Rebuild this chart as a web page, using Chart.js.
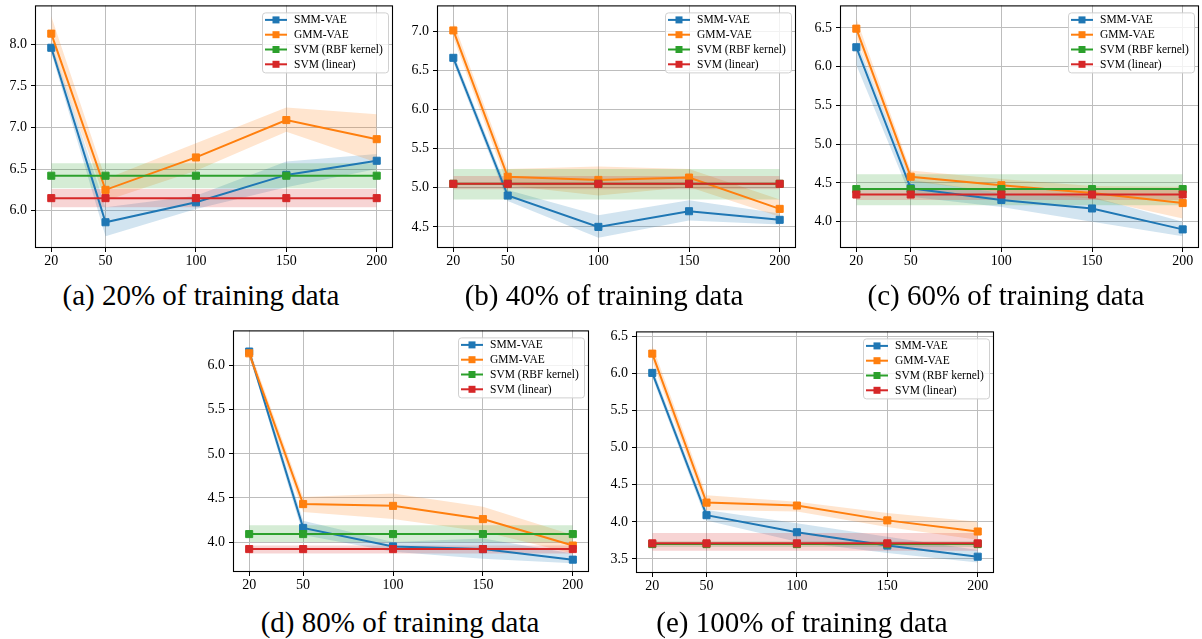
<!DOCTYPE html>
<html>
<head>
<meta charset="utf-8">
<script src="https://cdn.jsdelivr.net/npm/chart.js@4.4.1/dist/chart.umd.min.js"></script>
<style>
    html, body { margin: 0; padding: 0; background: #fff; overflow: hidden; }
    body { width: 1202px; height: 639px; position: relative; }
    .panel { position: absolute; }
    .caption {
        position: absolute;
        font-family: "Liberation Serif", "Times New Roman", serif;
        font-size: 29px;
        line-height: 29px;
        color: #000;
        white-space: nowrap;
        transform: translateX(-50%);
    }
</style>
</head>
<body>
<script>
// data
const xValues = [20, 50, 100, 150, 200];
const seriesNames = ['SMM-VAE', 'GMM-VAE', 'SVM (RBF kernel)', 'SVM (linear)'];
const panelTitles = ['(a) 20% of training data', '(b) 40% of training data', '(c) 60% of training data',
                     '(d) 80% of training data', '(e) 100% of training data'];

// one row per panel, one value per x
const smmMean = [
    [7.96, 5.86, 6.10, 6.43, 6.60],
    [6.66, 4.90, 4.50, 4.70, 4.59],
    [6.25, 4.43, 4.28, 4.17, 3.90],
    [6.16, 4.16, 3.95, 3.92, 3.80],
    [6.01, 4.09, 3.86, 3.68, 3.53]
];
const smmLow = [
    [7.90, 5.69, 6.02, 6.28, 6.50],
    [6.60, 4.83, 4.36, 4.58, 4.53],
    [6.02, 4.32, 4.19, 4.00, 3.81],
    [6.12, 4.08, 3.89, 3.81, 3.76],
    [5.95, 4.02, 3.73, 3.58, 3.45]
];
const smmHigh = [
    [8.02, 6.04, 6.18, 6.59, 6.68],
    [6.72, 4.97, 4.65, 4.84, 4.67],
    [6.35, 4.54, 4.37, 4.32, 4.00],
    [6.20, 4.24, 4.00, 4.04, 3.87],
    [6.08, 4.16, 3.98, 3.80, 3.62]
];
const gmmMean = [
    [8.13, 6.25, 6.64, 7.09, 6.86],
    [7.01, 5.14, 5.10, 5.13, 4.73],
    [6.49, 4.58, 4.47, 4.37, 4.24],
    [6.14, 4.43, 4.41, 4.26, 3.96],
    [6.27, 4.26, 4.22, 4.02, 3.87]
];
const gmmLow = [
    [7.96, 6.12, 6.48, 6.95, 6.58],
    [6.92, 5.03, 4.90, 5.01, 4.63],
    [6.38, 4.52, 4.38, 4.30, 4.04],
    [6.08, 4.34, 4.26, 4.12, 3.87],
    [6.17, 4.16, 4.14, 3.93, 3.76]
];
const gmmHigh = [
    [8.34, 6.38, 6.81, 7.24, 7.16],
    [7.12, 5.24, 5.27, 5.24, 4.85],
    [6.62, 4.66, 4.55, 4.46, 4.45],
    [6.20, 4.51, 4.55, 4.40, 4.08],
    [6.38, 4.36, 4.27, 4.12, 4.00]
];
// the SVM baselines do not depend on x: one value per panel
const rbfMean = [6.42, 5.05, 4.42, 4.09, 3.70];
const rbfLow = [6.27, 4.85, 4.21, 4.00, 3.66];
const rbfHigh = [6.57, 5.24, 4.61, 4.19, 3.74];
const linMean = [6.15, 5.05, 4.35, 3.92, 3.71];
const linLow = [6.04, 4.98, 4.28, 3.87, 3.61];
const linHigh = [6.26, 5.15, 4.43, 3.96, 3.85];

const yTicks = [
    [6.0, 6.5, 7.0, 7.5, 8.0],
    [4.5, 5.0, 5.5, 6.0, 6.5, 7.0],
    [4.0, 4.5, 5.0, 5.5, 6.0, 6.5],
    [4.0, 4.5, 5.0, 5.5, 6.0],
    [3.5, 4.0, 4.5, 5.0, 5.5, 6.0, 6.5]
];
const yMin = [5.55, 4.23, 3.66, 3.66, 3.31];
const yMax = [8.47, 7.33, 6.79, 6.40, 6.57];

// layout: axes box [left, top, right, bottom] and caption position
const boxes = [
    [35, 5, 393, 248],
    [437, 5, 796, 248],
    [840, 5, 1199, 248],
    [233, 330, 589, 572],
    [636, 331, 994, 573]
];
const captionPos = [[201, 281], [604, 281], [1006, 281], [400, 608], [802, 608]];

const colors = ['#1f77b4', '#ff7f0e', '#2ca02c', '#d62728'];
const bandColors = ['rgba(31,119,180,0.2)', 'rgba(255,127,14,0.2)', 'rgba(44,160,44,0.2)', 'rgba(214,39,40,0.2)'];

const tickFont = { family: '"Liberation Serif", "Times New Roman", serif', size: 14 };
const PAD_L = 40, PAD_T = 12, PAD_R = 10, PAD_B = 26;

// black frame around the axes, like matplotlib spines
const framePlugin = {
    id: 'frame',
    afterDatasetsDraw(chart) {
        const a = chart.chartArea;
        const ctx = chart.ctx;
        ctx.save();
        ctx.strokeStyle = '#000';
        ctx.lineWidth = 1.1;
        ctx.strokeRect(a.left + 0.5, a.top + 0.5, a.right - a.left - 1, a.bottom - a.top - 1);
        ctx.restore();
    }
};

// legend box in the upper right corner of the axes
const boxLegendPlugin = {
    id: 'boxLegend',
    afterDraw(chart) {
        const a = chart.chartArea;
        const ctx = chart.ctx;
        const w = 126, h = 60;
        const left = a.right - 5 - w;
        const top = a.top + 7;
        ctx.save();
        ctx.fillStyle = 'rgba(255,255,255,0.8)';
        ctx.strokeStyle = '#d0d0d0';
        ctx.lineWidth = 1;
        ctx.beginPath();
        ctx.roundRect(left + 0.5, top + 0.5, w, h, 3);
        ctx.fill();
        ctx.stroke();
        ctx.font = '11.5px "Liberation Serif", "Times New Roman", serif';
        ctx.textBaseline = 'middle';
        seriesNames.forEach((name, k) => {
            const y = top + 7.5 + k * 14.8;
            ctx.strokeStyle = colors[k];
            ctx.lineWidth = 2;
            ctx.beginPath();
            ctx.moveTo(left + 3, y);
            ctx.lineTo(left + 25, y);
            ctx.stroke();
            ctx.fillStyle = colors[k];
            ctx.fillRect(left + 10.5, y - 3.5, 7, 7);
            ctx.fillStyle = '#000';
            ctx.fillText(name, left + 32, y + 0.5);
        });
        ctx.restore();
    }
};

function points(values) {
    return xValues.map((x, j) => ({ x: x, y: values[j] }));
}

function flat(value) {
    return xValues.map(() => value);
}

function buildDatasets(i) {
    const means = [smmMean[i], gmmMean[i], flat(rbfMean[i]), flat(linMean[i])];
    const lows = [smmLow[i], gmmLow[i], flat(rbfLow[i]), flat(linLow[i])];
    const highs = [smmHigh[i], gmmHigh[i], flat(rbfHigh[i]), flat(linHigh[i])];
    const sets = [];
    seriesNames.forEach((name, k) => {
        // shaded band: upper edge filled down to the lower edge
        sets.push({
            label: name + ' upper',
            data: points(highs[k]),
            borderWidth: 0,
            pointRadius: 0,
            backgroundColor: bandColors[k],
            fill: '+1',
            order: 8 - k
        });
        sets.push({
            label: name + ' lower',
            data: points(lows[k]),
            borderWidth: 0,
            pointRadius: 0,
            fill: false,
            order: 8 - k
        });
    });
    seriesNames.forEach((name, k) => {
        sets.push({
            label: name,
            data: points(means[k]),
            borderColor: colors[k],
            backgroundColor: colors[k],
            borderWidth: 2,
            pointStyle: 'rect',
            pointRadius: 5,
            pointBorderWidth: 1,
            pointBackgroundColor: colors[k],
            pointBorderColor: colors[k],
            fill: false,
            tension: 0,
            order: 4 - k
        });
    });
    return sets;
}

boxes.forEach((box, i) => {
    const [L, T, R, B] = box;
    const w = R - L + PAD_L + PAD_R;
    const h = B - T + PAD_T + PAD_B;
    const wrap = document.createElement('div');
    wrap.className = 'panel';
    wrap.style.left = (L - PAD_L) + 'px';
    wrap.style.top = (T - PAD_T) + 'px';
    const canvas = document.createElement('canvas');
    canvas.width = w;
    canvas.height = h;
    canvas.style.width = w + 'px';
    canvas.style.height = h + 'px';
    wrap.appendChild(canvas);
    document.body.appendChild(wrap);

    const cap = document.createElement('div');
    cap.className = 'caption';
    cap.textContent = panelTitles[i];
    cap.style.left = captionPos[i][0] + 'px';
    cap.style.top = captionPos[i][1] + 'px';
    document.body.appendChild(cap);

    new Chart(canvas, {
        type: 'line',
        data: { datasets: buildDatasets(i) },
        options: {
            responsive: false,
            animation: false,
            devicePixelRatio: 1,
            layout: { padding: { left: 0, top: PAD_T, right: PAD_R, bottom: 0 } },
            scales: {
                x: {
                    type: 'linear',
                    min: 11,
                    max: 209,
                    afterBuildTicks: s => { s.ticks = xValues.map(v => ({ value: v })); },
                    afterFit: s => { s.height = PAD_B; },
                    grid: { color: '#bdbdbd', lineWidth: 1, tickColor: '#000', tickLength: 4 },
                    border: { display: false },
                    ticks: { font: tickFont, color: '#000', padding: 1, maxRotation: 0, autoSkip: false,
                             callback: v => String(v) }
                },
                y: {
                    type: 'linear',
                    min: yMin[i],
                    max: yMax[i],
                    afterBuildTicks: s => { s.ticks = yTicks[i].map(v => ({ value: v })); },
                    afterFit: s => { s.width = PAD_L; },
                    grid: { color: '#bdbdbd', lineWidth: 1, tickColor: '#000', tickLength: 4 },
                    border: { display: false },
                    ticks: { font: tickFont, color: '#000', padding: 4, autoSkip: false,
                             callback: v => Number(v).toFixed(1) }
                }
            },
            plugins: {
                legend: { display: false },
                title: { display: false },
                tooltip: { enabled: false }
            }
        },
        plugins: [framePlugin, boxLegendPlugin]
    });
});
</script>
</body>
</html>
